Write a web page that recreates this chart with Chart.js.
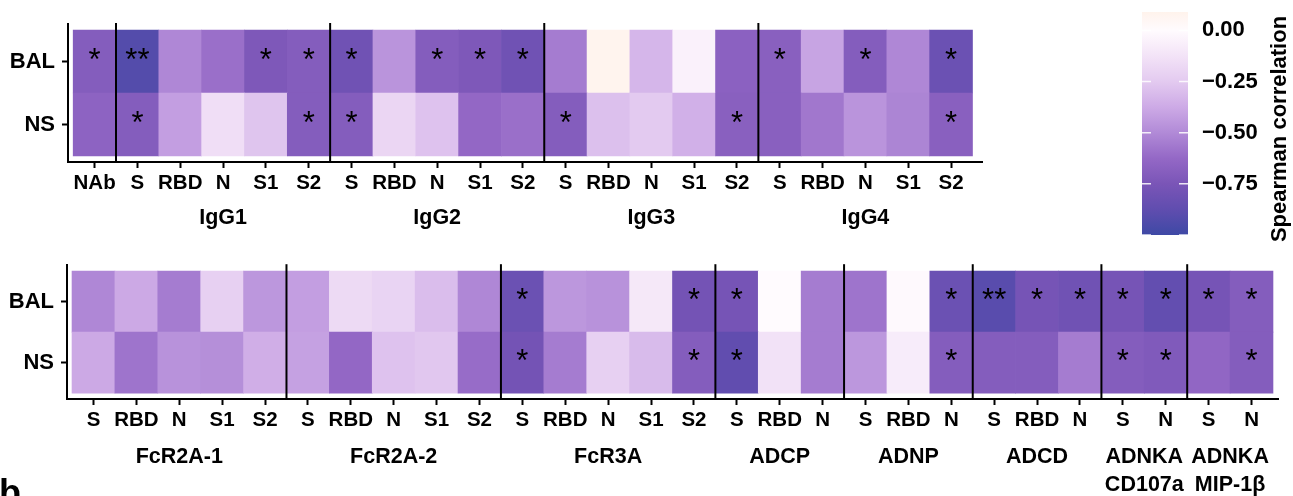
<!DOCTYPE html>
<html>
<head>
<meta charset="utf-8">
<script src="https://cdn.jsdelivr.net/npm/chart.js@4.4.1/dist/chart.umd.min.js"></script>
<style>
html, body { margin: 0; padding: 0; background: #fff; overflow: hidden; width: 1293px; height: 496px; }
canvas { position: absolute; }
#top { left: 0; top: 0; }
#bottom { left: 0; top: 245px; }
#bar { left: 1130px; top: 0; }
#tag { position: absolute; left: -1px; top: 475px; font: bold 36px "Liberation Sans", Arial, sans-serif; line-height: 1; color: #000; }
</style>
</head>
<body>
<canvas id="top" width="1000" height="245"></canvas>
<canvas id="bottom" width="1293" height="251"></canvas>
<canvas id="bar" width="163" height="250"></canvas>
<div id="tag">b</div>
<script>
const rows = ['NS', 'BAL']

const topCols = ['NAb', 'S', 'RBD', 'N', 'S1', 'S2', 'S', 'RBD', 'N', 'S1', 'S2', 'S', 'RBD', 'N', 'S1', 'S2', 'S', 'RBD', 'N', 'S1', 'S2']
const topGroups = ['', 'IgG1', 'IgG2', 'IgG3', 'IgG4']
const topSizes = [1, 5, 5, 5, 5]
const topBAL = [-0.7, -0.92, -0.51, -0.6, -0.73, -0.7, -0.8, -0.46, -0.7, -0.73, -0.8, -0.55, 0.08, -0.33, -0.05, -0.67, -0.68, -0.4, -0.7, -0.51, -0.82]
const topNS = [-0.66, -0.7, -0.42, -0.15, -0.27, -0.7, -0.7, -0.19, -0.28, -0.63, -0.6, -0.7, -0.29, -0.25, -0.35, -0.68, -0.68, -0.57, -0.46, -0.52, -0.68]
const topStarBAL = ['*', '**', '', '', '*', '*', '*', '', '*', '*', '*', '', '', '', '', '', '*', '', '*', '', '*']
const topStarNS = ['', '*', '', '', '', '*', '*', '', '', '', '', '*', '', '', '', '*', '', '', '', '', '*']

const botCols = ['S', 'RBD', 'N', 'S1', 'S2', 'S', 'RBD', 'N', 'S1', 'S2', 'S', 'RBD', 'N', 'S1', 'S2', 'S', 'RBD', 'N', 'S', 'RBD', 'N', 'S', 'RBD', 'N', 'S', 'N', 'S', 'N']
const botGroups = ['FcR2A-1', 'FcR2A-2', 'FcR3A', 'ADCP', 'ADNP', 'ADCD', ['ADNKA', 'CD107a'], ['ADNKA', 'MIP-1β']]
const botSizes = [5, 5, 5, 3, 3, 3, 2, 2]
const botBAL = [-0.51, -0.38, -0.55, -0.22, -0.45, -0.42, -0.17, -0.2, -0.3, -0.51, -0.82, -0.45, -0.47, -0.1, -0.78, -0.77, 0.0, -0.55, -0.58, -0.01, -0.82, -0.9, -0.77, -0.8, -0.77, -0.86, -0.77, -0.7]
const botNS = [-0.38, -0.58, -0.47, -0.48, -0.36, -0.41, -0.63, -0.28, -0.26, -0.61, -0.78, -0.55, -0.22, -0.31, -0.7, -0.87, -0.13, -0.55, -0.45, -0.08, -0.7, -0.7, -0.7, -0.55, -0.7, -0.72, -0.64, -0.7]
const botStarBAL = ['', '', '', '', '', '', '', '', '', '', '*', '', '', '', '*', '*', '', '', '', '', '*', '**', '*', '*', '*', '*', '*', '*']
const botStarNS = ['', '', '', '', '', '', '', '', '', '', '*', '', '', '', '*', '*', '', '', '', '', '*', '', '', '', '*', '*', '', '*']

const barTicks = [0, -0.25, -0.5, -0.75]
const barRange = [-1.0, 0.09]
const cmapVals = [0.09, 0, -0.125, -0.25, -0.375, -0.5, -0.625, -0.75, -0.875, -1.0]
const cmapCols = ['#fff3ec', '#fffbfe', '#f3e3f7', '#e3caf0', '#cdaae6', '#b18ad7', '#9468c6', '#7a55b7', '#604daf', '#3e49a5']

const FONT = '"Liberation Sans", Arial, Helvetica, sans-serif'
Chart.defaults.font.family = FONT
Chart.defaults.color = '#000'

let hex = h => [1, 3, 5].map(i => parseInt(h.slice(i, i + 2), 16))
let colorOf = v => {
	let n = cmapVals.length
	if (v >= cmapVals[0]) return cmapCols[0]
	if (v <= cmapVals[n - 1]) return cmapCols[n - 1]
	for (let i = 0; i < n - 1; i++) {
		let a = cmapVals[i], b = cmapVals[i + 1]
		if (v <= a && v >= b) {
			let t = (a - v) / (a - b)
			let ca = hex(cmapCols[i]), cb = hex(cmapCols[i + 1])
			let c = ca.map((x, k) => Math.round(x + (cb[k] - x) * t))
			return `rgb(${c[0]},${c[1]},${c[2]})`
		}
	}
}

let panel = (id, cols, groups, sizes, bal, ns, starBal, starNs, cfg) => {
	let starts = []
	let s = 0
	sizes.forEach(n => { starts.push(s); s += n })
	let deco = {
		id: 'deco',
		afterDatasetsDraw: c => {
			let { ctx, chartArea: a, scales: { x, y } } = c
			ctx.save()
			ctx.strokeStyle = '#000'
			ctx.lineWidth = 2
			starts.slice(1).forEach(st => {
				let px = x.getPixelForValue(st - 0.5)
				ctx.beginPath()
				ctx.moveTo(px, a.top - 1)
				ctx.lineTo(px, a.bottom)
				ctx.stroke()
			})
			ctx.fillStyle = '#000'
			ctx.textAlign = 'center'
			ctx.textBaseline = 'middle'
			ctx.font = `31px ${FONT}`
			;[starNs, starBal].forEach((arr, r) => arr.forEach((t, i) => {
				if (t) ctx.fillText(t, x.getPixelForValue(i), y.getPixelForValue(r + 0.5))
			}))
			ctx.font = `bold 21.5px ${FONT}`
			groups.forEach((g, k) => {
				let cx = x.getPixelForValue(starts[k] + (sizes[k] - 1) / 2)
				;[].concat(g).forEach((line, j) => ctx.fillText(line, cx, cfg.groupY + j * 28))
			})
			ctx.restore()
		}
	}
	new Chart(document.getElementById(id), {
		type: 'bar',
		data: {
			datasets: [
				{ data: ns.map((v, i) => ({ x: i, y: [0, 1] })), backgroundColor: ns.map(colorOf) },
				{ data: bal.map((v, i) => ({ x: i, y: [1, 2] })), backgroundColor: bal.map(colorOf) }
			]
		},
		options: {
			responsive: false,
			animation: false,
			grouped: false,
			barPercentage: 1,
			categoryPercentage: 1,
			borderWidth: 0,
			layout: { padding: { top: cfg.top, right: cfg.right, left: 0, bottom: 0 } },
			plugins: { legend: { display: false }, tooltip: { enabled: false } },
			scales: {
				x: {
					type: 'linear',
					offset: false,
					min: cfg.xmin,
					max: cfg.xmax,
					afterBuildTicks: sc => { sc.ticks = cols.map((c, i) => ({ value: i })) },
					afterFit: sc => { sc.height = cfg.xh; sc.paddingLeft = 0; sc.paddingRight = 0 },
					ticks: { callback: v => cols[v], autoSkip: false, maxRotation: 0, padding: 3, color: '#000', font: { size: 20.5, weight: 'bold' } },
					grid: { offset: false, drawOnChartArea: false, drawTicks: true, tickLength: 6, tickWidth: 2, tickColor: '#000' },
					border: { display: true, color: '#000', width: 2 }
				},
				y: {
					type: 'linear',
					min: -0.095,
					max: 2.095,
					afterBuildTicks: sc => { sc.ticks = [{ value: 0.5 }, { value: 1.5 }] },
					afterFit: sc => { sc.width = cfg.yw },
					ticks: { callback: v => rows[Math.floor(v)], padding: 7, color: '#000', font: { size: 22, weight: 'bold' } },
					grid: { drawOnChartArea: false, drawTicks: true, tickLength: 6, tickWidth: 2, tickColor: '#000' },
					border: { display: true, color: '#000', width: 2 }
				}
			}
		},
		plugins: [deco]
	})
}

panel('top', topCols, topGroups, topSizes, topBAL, topNS, topStarBAL, topStarNS,
	{ top: 24, right: 18, xh: 83, yw: 68, xmin: -0.621, xmax: 20.722, groupY: 218 })
panel('bottom', botCols, botGroups, botSizes, botBAL, botNS, botStarBAL, botStarNS,
	{ top: 16, right: 15, xh: 97, yw: 67, xmin: -0.617, xmax: 27.617, groupY: 212 })

let gradient = chart => {
	let { ctx, chartArea, scales } = chart
	if (!chartArea) return cmapCols[5]
	let y = scales.y
	let g = ctx.createLinearGradient(0, y.getPixelForValue(barRange[0]), 0, y.getPixelForValue(barRange[1]))
	let span = barRange[1] - barRange[0]
	cmapVals.forEach((v, i) => g.addColorStop(Math.min(1, Math.max(0, (v - barRange[0]) / span)), cmapCols[i]))
	return g
}

let barDeco = {
	id: 'barDeco',
	afterDatasetsDraw: c => {
		let { ctx, chartArea: a, scales: { y } } = c
		ctx.save()
		ctx.strokeStyle = 'rgba(255,255,255,0.85)'
		ctx.lineWidth = 1.5
		;[-1, ...barTicks].forEach(v => {
			let py = y.getPixelForValue(v)
			ctx.beginPath()
			ctx.moveTo(a.left, py); ctx.lineTo(a.left + 9, py)
			ctx.moveTo(a.right - 9, py); ctx.lineTo(a.right, py)
			ctx.stroke()
		})
		ctx.translate(150, 129)
		ctx.rotate(-Math.PI / 2)
		ctx.fillStyle = '#000'
		ctx.textAlign = 'center'
		ctx.textBaseline = 'middle'
		ctx.font = `bold 22px ${FONT}`
		ctx.fillText('Spearman correlation', 0, 0)
		ctx.restore()
	}
}

new Chart(document.getElementById('bar'), {
	type: 'bar',
	data: { labels: [''], datasets: [{ data: [barRange], backgroundColor: c => gradient(c.chart), borderWidth: 0 }] },
	options: {
		responsive: false,
		animation: false,
		barPercentage: 1,
		categoryPercentage: 1,
		layout: { padding: { left: 12, top: 12, bottom: 15, right: 0 } },
		plugins: { legend: { display: false }, tooltip: { enabled: false } },
		scales: {
			x: { display: false },
			y: {
				position: 'right',
				min: barRange[0],
				max: barRange[1],
				afterBuildTicks: sc => { sc.ticks = barTicks.map(v => ({ value: v })) },
				afterFit: sc => { sc.width = 105; sc.paddingTop = 0; sc.paddingBottom = 0 },
				grid: { display: false, drawTicks: false },
				border: { display: false },
				ticks: { padding: 14, color: '#000', font: { size: 22, weight: 'bold' }, callback: v => (v < 0 ? '\u2212' : '') + Math.abs(v).toFixed(2) }
			}
		}
	},
	plugins: [barDeco]
})
</script>
</body>
</html>
